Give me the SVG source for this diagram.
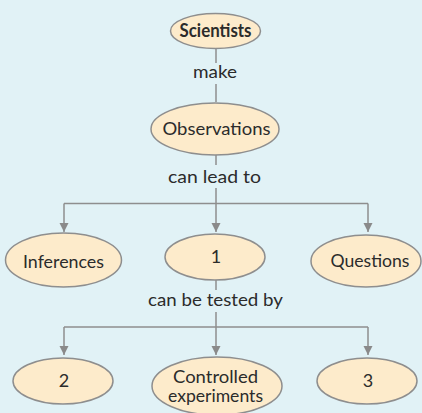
<svg xmlns="http://www.w3.org/2000/svg" width="422" height="413" viewBox="0 0 422 413">
<defs>
<marker id="ah" markerWidth="10" markerHeight="10" refX="9" refY="5" orient="auto" markerUnits="userSpaceOnUse">
<path d="M0,0.5 L9,5 L0,9.5 Z" fill="#8a8a8a"/>
</marker>
<style>
.n ellipse{fill:#fdebcb;stroke:#8e8e8e;stroke-width:1.5}
text{font-family:Lato,"Liberation Sans",sans-serif;fill:#2b2b2b;text-anchor:middle}
.t{font-size:18px}
.l{font-size:18px}
.c path{fill:none;stroke:#8e8e8e;stroke-width:1.5}
</style>
</defs>
<rect width="422" height="413" fill="#e1f2f6"/>
<g class="c" id="connectors">
<path d="M216,48 V63 M216,84 V102"/>
<path d="M216,155 V165 M216,188 V203.5"/>
<path d="M64,203.5 H368"/>
<path d="M64,203.5 V232" marker-end="url(#ah)"/>
<path d="M216,203.5 V232" marker-end="url(#ah)"/>
<path d="M368,203.5 V232" marker-end="url(#ah)"/>
<path d="M216,280 V290 M216,312 V327"/>
<path d="M64,327 H368"/>
<path d="M64,327 V355" marker-end="url(#ah)"/>
<path d="M216,327 V355" marker-end="url(#ah)"/>
<path d="M368,327 V355" marker-end="url(#ah)"/>
<text class="l" x="215" y="78" textLength="44" lengthAdjust="spacingAndGlyphs">make</text>
<text class="l" x="214.5" y="183" textLength="93" lengthAdjust="spacingAndGlyphs">can lead to</text>
<text class="l" x="215.5" y="306" textLength="135" lengthAdjust="spacingAndGlyphs">can be tested by</text>
</g>
<g class="n" id="scientists"><ellipse cx="215.5" cy="31" rx="45" ry="17.5"/><text class="t" x="215.5" y="37" font-weight="bold" textLength="72" lengthAdjust="spacingAndGlyphs">Scientists</text></g>
<g class="n" id="observations"><ellipse cx="215" cy="129" rx="64" ry="26"/><text class="t" x="216.5" y="135" textLength="108" lengthAdjust="spacingAndGlyphs">Observations</text></g>
<g class="n" id="inferences"><ellipse cx="63.5" cy="260" rx="58" ry="27"/><text class="t" x="63.5" y="268" textLength="81" lengthAdjust="spacingAndGlyphs">Inferences</text></g>
<g class="n" id="n1"><ellipse cx="215" cy="257" rx="50" ry="23"/><text class="t" x="216" y="263">1</text></g>
<g class="n" id="questions"><ellipse cx="366" cy="261" rx="55" ry="26"/><text class="t" x="370" y="267" textLength="79" lengthAdjust="spacingAndGlyphs">Questions</text></g>
<g class="n" id="n2"><ellipse cx="63" cy="381" rx="50" ry="23"/><text class="t" x="64" y="387">2</text></g>
<g class="n" id="controlled"><ellipse cx="217" cy="386" rx="65" ry="29"/><text x="215.5" y="383" font-size="17" textLength="85" lengthAdjust="spacingAndGlyphs">Controlled</text><text x="215.5" y="402" font-size="17" textLength="95" lengthAdjust="spacingAndGlyphs">experiments</text></g>
<g class="n" id="n3"><ellipse cx="367" cy="381" rx="50" ry="23"/><text class="t" x="368" y="387">3</text></g>
</svg>
